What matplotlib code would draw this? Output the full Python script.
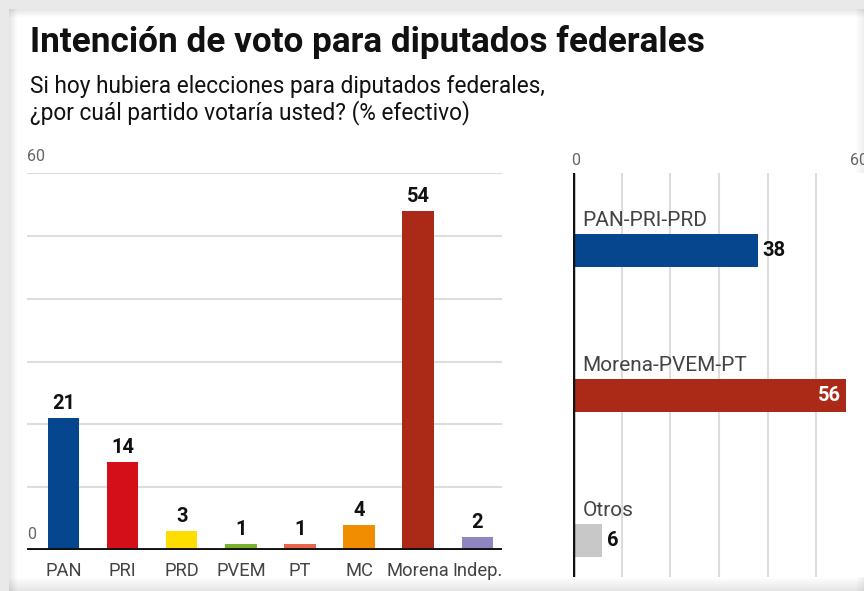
import matplotlib
matplotlib.use("Agg")
import matplotlib.pyplot as plt
from matplotlib.patches import Rectangle

# Intención de voto por partido (% efectivo)
partidos = ["PAN", "PRI", "PRD", "PVEM", "PT", "MC", "Morena", "Indep."]
votos = [21, 14, 3, 1, 1, 4, 54, 2]
colores = ["#06468f", "#d50f1a", "#ffdd00", "#79b22c", "#e8644b", "#f08d00", "#ab2a17", "#8e86bf"]

# Intención de voto por coalición
coaliciones = ["PAN-PRI-PRD", "Morena-PVEM-PT", "Otros"]
votos_coal = [38, 56, 6]
colores_coal = ["#06468f", "#ab2a17", "#c8c8c8"]

W, H = 864, 591
plt.rcParams["font.family"] = ["Roboto", "DejaVu Sans"]


def fx(px):
    return px / W


def fy(py):
    return 1 - py / H


fig = plt.figure(figsize=(8.64, 5.91), dpi=100)
fig.patch.set_facecolor("#e9e9e9")

# white card with soft inner shadow
bg = fig.add_axes([0, 0, 1, 1], zorder=-10)
bg.set_xlim(0, W)
bg.set_ylim(H, 0)
bg.axis("off")
bg.add_patch(Rectangle((9, 9), W - 9, H - 9, color="white", lw=0))
for i in range(8):
    a = 0.10 * (1 - i / 8)
    bg.add_patch(Rectangle((9, 9 + i), W - 9, 1, color="black", alpha=a, lw=0))
    bg.add_patch(Rectangle((9 + i, 9), 1, H - 9, color="black", alpha=a, lw=0))
    bg.add_patch(Rectangle((9, H - 12 + i * 1.5), W - 9, 1.5, color="black", alpha=0.02 + 0.012 * i, lw=0))
    bg.add_patch(Rectangle((W - 1 - i, 9), 1, H - 9, color="black", alpha=a * 0.6, lw=0))

fig.text(fx(30), fy(42), "Intención de voto para diputados federales",
         fontsize=25.3, fontweight="bold", color="#111111", va="center", ha="left")
fig.text(fx(30), fy(86), "Si hoy hubiera elecciones para diputados federales,",
         fontsize=16.3, color="#111111", va="center", ha="left")
fig.text(fx(30), fy(113), "¿por cuál partido votaría usted? (% efectivo)",
         fontsize=16.3, color="#111111", va="center", ha="left")

# --- left: partidos ---
ax = fig.add_axes([fx(27), fy(550), fx(502 - 27), (550 - 173) / H])
pos = list(range(len(partidos)))
ax.bar(pos, votos, width=0.53, color=colores, zorder=3)
ax.set_xlim(-0.62, 7.42)
ax.set_ylim(0, 60)
for v in range(10, 61, 10):
    ax.axhline(v, color="#dddddd", lw=1.5, zorder=1)
ax.axhline(0, color="#111111", lw=2.8, zorder=4)
for s in ax.spines.values():
    s.set_visible(False)
ax.set_yticks([])
ax.set_xticks(pos)
ax.set_xticklabels(partidos, fontsize=13.2, color="#444444")
ax.tick_params(axis="x", length=0, pad=9)
for p, v in zip(pos, votos):
    ax.text(p, v + 0.8, str(v), ha="center", va="bottom", fontsize=14.5,
            fontweight="bold", color="#111111")
ax.text(0, 1.025, "60", transform=ax.transAxes, ha="left", va="bottom",
        fontsize=11.5, color="#666666")
ax.text(0, 0.02, "0", transform=ax.transAxes, ha="left", va="bottom",
        fontsize=11.5, color="#666666")

# --- right: coaliciones ---
ax2 = fig.add_axes([fx(573), fy(577), fx(865 - 573), (577 - 173) / H])
ypos = list(range(len(coaliciones)))
ax2.barh(ypos, votos_coal, height=0.228, color=colores_coal, zorder=3)
ax2.set_xlim(0, 60)
ax2.set_ylim(2.252, -0.534)
for v in range(10, 60, 10):
    ax2.axvline(v, color="#dddddd", lw=1.5, zorder=1)
ax2.axvline(0, color="#111111", lw=2.5, zorder=4)
for s in ax2.spines.values():
    s.set_visible(False)
ax2.set_xticks([])
ax2.set_yticks([])
ax2.text(0.6, 1.012, "0", transform=ax2.get_xaxis_transform(),
         ha="center", va="bottom", fontsize=11.5, color="#666666")
ax2.text(56.9, 1.012, "60", transform=ax2.get_xaxis_transform(),
         ha="left", va="bottom", fontsize=11.5, color="#666666")
for y, v, name in zip(ypos, votos_coal, coaliciones):
    ax2.text(2, y - 0.14, name, ha="left", va="bottom", fontsize=15, color="#444444")
    if v > 50:
        ax2.text(v - 1, y, str(v), ha="right", va="center", fontsize=14.5,
                 fontweight="bold", color="white")
    else:
        ax2.text(v + 1, y, str(v), ha="left", va="center", fontsize=14.5,
                 fontweight="bold", color="#111111")

fig.savefig("out.png", dpi=100, facecolor=fig.get_facecolor())
